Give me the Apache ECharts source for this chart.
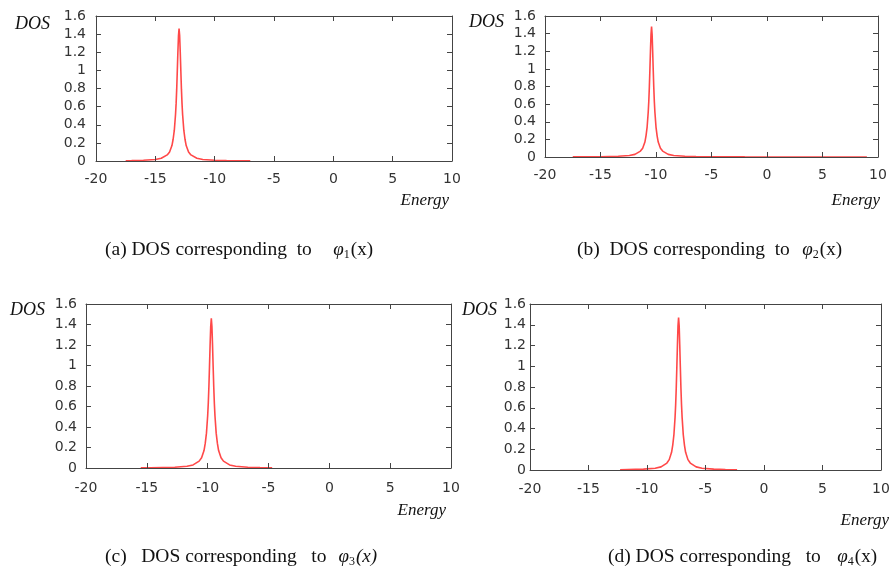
<!DOCTYPE html>
<html>
<head>
<meta charset="utf-8">
<script src="https://cdn.jsdelivr.net/npm/echarts@6/dist/echarts.min.js"></script>
<style>
html,body{margin:0;padding:0;background:#fff;}
#chart{width:893px;height:578px;}
</style>
</head>
<body>
<div id="chart"></div>
<script>
// ---- data ----
const xTicks = [-20, -15, -10, -5, 0, 5, 10];
const yTicks = [0, 0.2, 0.4, 0.6, 0.8, 1, 1.2, 1.4, 1.6];

// (a) peak near -13.0
const energyA = [-17.5, -17, -16, -15, -14.5, -14, -13.8, -13.6, -13.5, -13.4, -13.3, -13.25, -13.2, -13.15, -13.1, -13.05, -13.0, -12.95, -12.9, -12.85, -12.8, -12.75, -12.7, -12.6, -12.5, -12.4, -12.2, -12, -11.5, -11, -10, -9, -8, -7];
const dosA    = [0.0035, 0.004, 0.008, 0.017, 0.03, 0.067, 0.10, 0.17, 0.24, 0.34, 0.51, 0.63, 0.79, 0.99, 1.20, 1.38, 1.46, 1.38, 1.20, 0.99, 0.79, 0.63, 0.51, 0.34, 0.24, 0.17, 0.10, 0.067, 0.03, 0.017, 0.008, 0.004, 0.003, 0.002];

// (b) peak near -10.4
const energyB = [-17.5, -15, -13.4, -12.4, -11.9, -11.4, -11.2, -11.0, -10.9, -10.8, -10.7, -10.65, -10.6, -10.55, -10.5, -10.45, -10.4, -10.35, -10.3, -10.25, -10.2, -10.15, -10.1, -10.0, -9.9, -9.8, -9.6, -9.4, -8.9, -8.4, -7.4, -6.4, -5.4, -2, 2, 5, 9];
const dosB    = [0.0014, 0.0033, 0.008, 0.017, 0.03, 0.067, 0.10, 0.17, 0.24, 0.34, 0.51, 0.63, 0.79, 0.99, 1.20, 1.39, 1.48, 1.39, 1.20, 0.99, 0.79, 0.63, 0.51, 0.34, 0.24, 0.17, 0.10, 0.067, 0.03, 0.017, 0.008, 0.004, 0.003, 0.0009, 0.0006, 0.0005, 0.0004];

// (c) peak near -9.7
const energyC = [-15.5, -14.7, -12.7, -11.7, -11.2, -10.7, -10.5, -10.3, -10.2, -10.1, -10.0, -9.95, -9.9, -9.85, -9.8, -9.75, -9.7, -9.65, -9.6, -9.55, -9.5, -9.45, -9.4, -9.3, -9.2, -9.1, -8.9, -8.7, -8.2, -7.7, -6.7, -5.7, -4.7];
const dosC    = [0.002, 0.003, 0.008, 0.017, 0.03, 0.067, 0.10, 0.17, 0.24, 0.34, 0.51, 0.63, 0.79, 0.99, 1.20, 1.38, 1.46, 1.38, 1.20, 0.99, 0.79, 0.63, 0.51, 0.34, 0.24, 0.17, 0.10, 0.067, 0.03, 0.017, 0.008, 0.004, 0.003];

// (d) peak near -7.3
const energyD = [-12.3, -10.3, -9.3, -8.8, -8.3, -8.1, -7.9, -7.8, -7.7, -7.6, -7.55, -7.5, -7.45, -7.4, -7.35, -7.3, -7.25, -7.2, -7.15, -7.1, -7.05, -7.0, -6.9, -6.8, -6.7, -6.5, -6.3, -5.8, -5.3, -4.3, -3.3, -2.3];
const dosD    = [0.003, 0.008, 0.017, 0.03, 0.067, 0.10, 0.17, 0.24, 0.34, 0.51, 0.63, 0.79, 0.99, 1.20, 1.39, 1.47, 1.39, 1.20, 0.99, 0.79, 0.63, 0.51, 0.34, 0.24, 0.17, 0.10, 0.067, 0.03, 0.017, 0.008, 0.004, 0.003];

const captionText = [
  '(a) DOS corresponding  to',
  '(b)  DOS corresponding  to',
  '(c)   DOS corresponding   to',
  '(d) DOS corresponding   to'
];
const captionMath = [
  '{p|\u03c6}{s|1}{u|(x)}',
  '{p|\u03c6}{s|2}{u|(x)}',
  '{p|\u03c6}{s|3}{p|(x)}',
  '{p|\u03c6}{s|4}{u|(x)}'
];

// ---- layout ----
const panels = [
  {grid:{left:96, top:16, width:356, height:145}, xm:11, ym:10, energy:energyA, dos:dosA,
   dos_lbl:[15, 15], en_lbl:[449, 201], cap:[105, 250], mathEnd:[373, 250]},
  {grid:{left:545, top:16, width:333, height:141}, xm:11, ym:9, energy:energyB, dos:dosB,
   dos_lbl:[469, 13], en_lbl:[880, 201], cap:[577, 250], mathEnd:[842, 250]},
  {grid:{left:86, top:304, width:365, height:164}, xm:13, ym:9, energy:energyC, dos:dosC,
   dos_lbl:[10, 301], en_lbl:[446, 511], cap:[105, 557], mathEnd:[377, 557]},
  {grid:{left:530, top:304, width:351, height:166}, xm:12, ym:4, energy:energyD, dos:dosD,
   dos_lbl:[462, 301], en_lbl:[889, 521], cap:[608, 557], mathEnd:[877, 557]}
];

const frameColor = '#444';
const labelStyle = {color:'#333', fontSize:14, fontFamily:'DejaVu Sans'};

const grids = [], xAxes = [], yAxes = [], series = [], graphics = [];
panels.forEach((p, i) => {
  grids.push(Object.assign({containLabel:false}, p.grid));
  const common = {
    type:'value', gridIndex:i, splitLine:{show:false},
    axisLine:{show:true, onZero:false, lineStyle:{color:frameColor, width:1}},
    axisTick:{show:true, inside:true, length:5, lineStyle:{color:frameColor, width:1}},
    z:3
  };
  xAxes.push(Object.assign({}, common, {position:'bottom', min:xTicks[0], max:xTicks[xTicks.length-1], interval:5,
    axisLabel:Object.assign({margin:p.xm}, labelStyle)}));
  xAxes.push(Object.assign({}, common, {position:'top', min:xTicks[0], max:xTicks[xTicks.length-1], interval:5,
    axisLabel:{show:false}}));
  yAxes.push(Object.assign({}, common, {position:'left', min:yTicks[0], max:yTicks[yTicks.length-1], interval:0.2,
    axisLabel:Object.assign({margin:p.ym, formatter:v => String(+v.toFixed(1))}, labelStyle)}));
  yAxes.push(Object.assign({}, common, {position:'right', min:yTicks[0], max:yTicks[yTicks.length-1], interval:0.2,
    axisLabel:{show:false}}));
  series.push({
    type:'line', xAxisIndex:2*i, yAxisIndex:2*i, showSymbol:false, z:2,
    data:p.energy.map((e, k) => [e, p.dos[k]]),
    lineStyle:{color:'rgba(255,40,40,0.85)', width:1.6},
    itemStyle:{color:'#ff2828'},
    animation:false
  });
  graphics.push({type:'text', left:p.dos_lbl[0], top:p.dos_lbl[1],
    style:{text:'DOS', font:'italic 18px "Liberation Serif"', fill:'#111'}});
  graphics.push({type:'text', x:p.en_lbl[0], y:p.en_lbl[1],
    style:{text:'Energy', font:'italic 17px "Liberation Serif"', fill:'#111', textAlign:'right', textVerticalAlign:'middle'}});
  graphics.push({type:'text', x:p.cap[0], y:p.cap[1],
    style:{text:captionText[i], font:'19.5px "Liberation Serif"', fill:'#111', textVerticalAlign:'middle'}});
  graphics.push({type:'text', x:p.mathEnd[0], y:p.mathEnd[1],
    style:{text:captionMath[i], align:'right', verticalAlign:'middle', textAlign:'right', textVerticalAlign:'middle',
      rich:{
        p:{fontFamily:'Liberation Serif', fontStyle:'italic', fontSize:19, lineHeight:22, verticalAlign:'middle', fill:'#111', color:'#111'},
        s:{fontFamily:'Liberation Serif', fontSize:12, lineHeight:12, verticalAlign:'bottom', fill:'#111', color:'#111', padding:[0,1,0,0]},
        u:{fontFamily:'Liberation Serif', fontSize:19, lineHeight:22, verticalAlign:'middle', fill:'#111', color:'#111'}
      }}});
});

const chart = echarts.init(document.getElementById('chart'), null, {renderer:'canvas'});
chart.setOption({
  animation:false,
  backgroundColor:'#fff',
  grid:grids, xAxis:xAxes, yAxis:yAxes, series:series,
  graphic:graphics
});
</script>
</body>
</html>
